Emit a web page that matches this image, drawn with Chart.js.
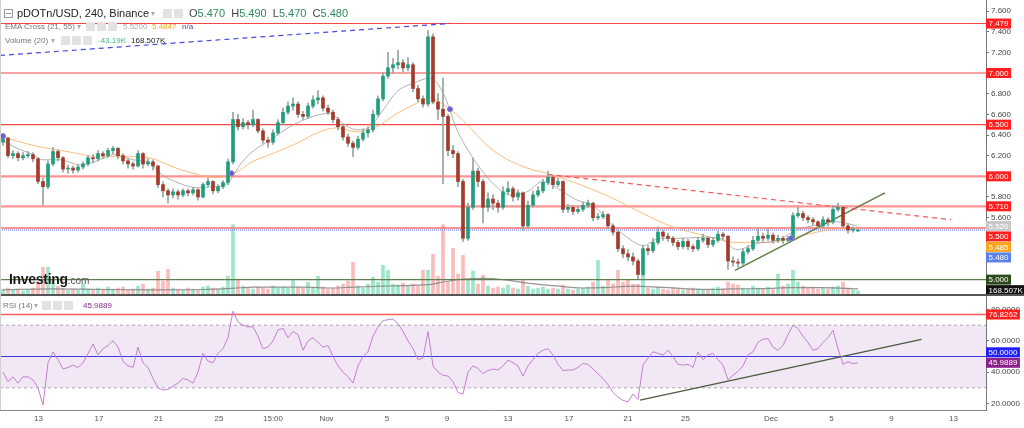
<!DOCTYPE html>
<html>
<head>
<meta charset="utf-8">
<script src="https://cdn.jsdelivr.net/npm/chart.js@4.4.1/dist/chart.umd.min.js"></script>
<style>
html,body{margin:0;padding:0;background:#fff;}
body{width:1024px;height:428px;position:relative;overflow:hidden;font-family:"Liberation Sans",Arial,sans-serif;}
#mainWrap{position:absolute;left:0;top:0;width:1024px;height:294px;}
#sep{position:absolute;left:0;top:294px;width:1024px;height:2px;background:#555;}
#rsiWrap{position:absolute;left:0;top:296px;width:1024px;height:132px;}
#leftEdge{position:absolute;left:0;top:0;width:1px;height:410px;background:#d0d0d0;}
.t{position:absolute;white-space:nowrap;line-height:1;z-index:5;}
.ic{position:absolute;width:9px;height:9px;background:#e2e2e2;border-radius:1px;z-index:5;}
.car{position:absolute;font-size:8px;color:#aaa;z-index:5;line-height:1;}
</style>
</head>
<body>
<div id="mainWrap"><canvas id="mainChart" width="1024" height="294"></canvas></div>
<div id="sep"></div>
<div id="rsiWrap"><canvas id="rsiChart" width="1024" height="132"></canvas></div>
<div id="leftEdge"></div>

<!-- header: symbol -->
<div class="t" style="left:4px;top:9px;width:7px;height:7px;border:1px solid #999;"></div>
<div class="t" style="left:6px;top:13px;width:5px;height:1px;background:#999;"></div>
<div class="t" style="left:17px;top:8px;font-size:11px;color:#222;">pDOTn/USD, 240, Binance</div>
<div class="car" style="left:151px;top:10px;">▾</div>
<div class="ic" style="left:163px;top:9px;"></div>
<div class="ic" style="left:174px;top:9px;"></div>
<div class="t" style="left:189px;top:8px;font-size:11px;color:#444;">O<span style="color:#2f8a5c">5.470</span>&nbsp; H<span style="color:#2f8a5c">5.490</span>&nbsp; L<span style="color:#2f8a5c">5.470</span>&nbsp; C<span style="color:#2f8a5c">5.480</span></div>

<!-- EMA legend -->
<div class="t" style="left:5px;top:23px;font-size:8px;color:#777;">EMA Cross (21, 55)</div>
<div class="car" style="left:77px;top:23px;">▾</div>
<div class="ic" style="left:86px;top:22px;"></div>
<div class="ic" style="left:97px;top:22px;"></div>
<div class="ic" style="left:108px;top:22px;"></div>
<div class="t" style="left:123px;top:23px;font-size:8px;color:#aaa;">5.5200</div>
<div class="t" style="left:152px;top:23px;font-size:8px;color:#f5a623;">5.4847</div>
<div class="t" style="left:182px;top:23px;font-size:8px;color:#3a4aa8;">n/a</div>

<!-- Volume legend -->
<div class="t" style="left:5px;top:37px;font-size:8px;color:#777;">Volume (20)</div>
<div class="car" style="left:51px;top:37px;">▾</div>
<div class="ic" style="left:61px;top:36px;"></div>
<div class="ic" style="left:72px;top:36px;"></div>
<div class="ic" style="left:83px;top:36px;"></div>
<div class="t" style="left:98px;top:37px;font-size:8px;color:#3dbb7f;">-43.19K</div>
<div class="t" style="left:131px;top:37px;font-size:8px;color:#222;">168.507K</div>

<!-- watermark -->
<div class="t" style="left:9px;top:272px;font-size:14px;font-weight:bold;color:#1a1a1a;letter-spacing:-0.3px;">Investing<span style="font-size:10px;font-weight:normal;color:#555;letter-spacing:0;">.com</span></div>

<!-- RSI legend -->
<div class="t" style="left:3px;top:302px;font-size:8px;color:#777;">RSI (14)</div>
<div class="car" style="left:34px;top:302px;">▾</div>
<div class="ic" style="left:42px;top:301px;"></div>
<div class="ic" style="left:53px;top:301px;"></div>
<div class="ic" style="left:64px;top:301px;"></div>
<div class="t" style="left:83px;top:302px;font-size:8px;color:#8b2a8b;">45.9889</div>

<script>
// ===== DATA =====
const opens = [6.33,6.37,6.20,6.22,6.18,6.20,6.21,6.17,5.95,5.90,
6.12,6.24,6.18,6.07,6.08,6.06,6.09,6.12,6.18,6.17,
6.22,6.20,6.25,6.27,6.20,6.15,6.12,6.10,6.22,6.12,
6.14,6.10,5.92,5.86,5.82,5.85,5.82,5.86,5.84,5.87,
5.80,5.92,5.95,5.86,5.90,5.94,6.14,6.55,6.48,6.52,
6.50,6.55,6.44,6.35,6.33,6.42,6.52,6.62,6.68,6.70,
6.60,6.58,6.68,6.74,6.76,6.66,6.62,6.55,6.48,6.38,
6.32,6.28,6.36,6.42,6.45,6.60,6.75,6.97,7.05,7.08,
7.10,7.05,7.08,6.85,6.75,6.70,7.35,6.72,6.65,6.58,
6.25,6.22,5.95,5.40,5.70,6.05,5.95,5.70,5.78,5.74,
5.70,5.85,5.88,5.80,5.84,5.52,5.72,5.82,5.86,5.94,
5.99,5.92,5.95,5.68,5.70,5.66,5.68,5.72,5.74,5.60,
5.61,5.63,5.52,5.46,5.30,5.25,5.22,5.18,5.05,5.30,
5.28,5.36,5.46,5.42,5.40,5.36,5.32,5.37,5.32,5.30,
5.38,5.40,5.34,5.38,5.44,5.42,5.18,5.17,5.16,5.27,
5.30,5.38,5.42,5.40,5.43,5.38,5.40,5.38,5.40,5.62,
5.64,5.60,5.58,5.56,5.52,5.58,5.56,5.68,5.70,5.52,
5.48,5.47];
const highs = [6.40,6.38,6.25,6.24,6.23,6.24,6.23,6.18,5.98,6.15,
6.28,6.26,6.19,6.11,6.10,6.11,6.14,6.20,6.21,6.25,
6.24,6.27,6.29,6.28,6.22,6.17,6.14,6.25,6.23,6.17,
6.16,6.11,5.95,5.88,5.88,5.87,5.88,5.88,5.89,5.88,
5.94,5.98,5.96,5.92,5.96,6.17,6.62,6.60,6.56,6.54,
6.64,6.56,6.46,6.38,6.45,6.55,6.66,6.72,6.76,6.72,
6.63,6.71,6.78,6.83,6.78,6.69,6.64,6.57,6.50,6.41,
6.34,6.39,6.46,6.48,6.64,6.78,7.00,7.20,7.14,7.22,
7.13,7.15,7.10,6.88,6.78,7.41,7.38,6.80,6.95,6.60,
6.30,6.24,5.97,5.74,6.18,6.08,5.97,5.84,5.82,5.77,
5.90,5.95,5.90,5.87,5.85,5.76,5.86,5.90,5.97,6.05,
6.01,5.98,5.96,5.73,5.72,5.71,5.75,5.77,5.75,5.64,
5.66,5.64,5.54,5.47,5.33,5.29,5.26,5.20,5.33,5.33,
5.40,5.51,5.48,5.45,5.42,5.38,5.40,5.39,5.34,5.41,
5.44,5.42,5.41,5.47,5.46,5.43,5.22,5.20,5.30,5.33,
5.42,5.50,5.45,5.49,5.45,5.43,5.42,5.42,5.65,5.70,
5.66,5.62,5.60,5.57,5.61,5.60,5.72,5.74,5.71,5.54,
5.51,5.49];
const lows = [6.30,6.18,6.17,6.15,6.16,6.18,6.14,5.93,5.72,5.88,
6.10,6.15,6.04,6.03,6.03,6.04,6.07,6.10,6.13,6.15,
6.17,6.18,6.22,6.17,6.12,6.08,6.07,6.09,6.08,6.10,
6.06,5.89,5.80,5.74,5.79,5.78,5.80,5.81,5.82,5.77,
5.79,5.90,5.83,5.84,5.88,5.92,6.12,6.45,6.46,6.46,
6.48,6.42,6.32,6.28,6.31,6.40,6.50,6.60,6.64,6.57,
6.55,6.56,6.66,6.70,6.63,6.60,6.52,6.45,6.35,6.29,
6.19,6.26,6.34,6.38,6.43,6.58,6.73,6.95,7.00,7.04,
7.01,7.02,6.82,6.72,6.67,6.68,6.70,6.55,5.93,6.20,
6.18,5.90,5.37,5.38,5.68,5.90,5.55,5.66,5.68,5.65,
5.68,5.83,5.76,5.77,5.48,5.50,5.70,5.80,5.84,5.92,
5.88,5.90,5.65,5.65,5.63,5.64,5.66,5.70,5.57,5.58,
5.59,5.49,5.43,5.27,5.21,5.18,5.14,5.01,5.03,5.24,
5.26,5.34,5.38,5.37,5.33,5.29,5.30,5.29,5.27,5.28,
5.36,5.31,5.32,5.36,5.39,5.10,5.13,5.12,5.14,5.25,
5.28,5.36,5.37,5.38,5.35,5.36,5.35,5.36,5.39,5.60,
5.57,5.55,5.53,5.49,5.50,5.52,5.54,5.66,5.50,5.45,
5.46,5.47];
const closes = [6.37,6.20,6.22,6.18,6.20,6.21,6.17,5.95,5.90,6.12,
6.24,6.18,6.07,6.08,6.06,6.09,6.12,6.18,6.17,6.22,
6.20,6.25,6.27,6.20,6.15,6.12,6.10,6.22,6.12,6.14,
6.10,5.92,5.86,5.82,5.85,5.82,5.86,5.84,5.87,5.80,
5.92,5.95,5.86,5.90,5.94,6.14,6.55,6.48,6.52,6.50,
6.55,6.44,6.35,6.33,6.42,6.52,6.62,6.68,6.70,6.60,
6.58,6.68,6.74,6.76,6.66,6.62,6.55,6.48,6.38,6.32,
6.28,6.36,6.42,6.45,6.60,6.75,6.97,7.05,7.08,7.10,
7.05,7.08,6.85,6.75,6.70,7.35,6.72,6.65,6.58,6.25,
6.22,5.95,5.40,5.70,6.05,5.95,5.70,5.78,5.74,5.70,
5.85,5.88,5.80,5.84,5.52,5.72,5.82,5.86,5.94,5.99,
5.92,5.95,5.68,5.70,5.66,5.68,5.72,5.74,5.60,5.61,
5.63,5.52,5.46,5.30,5.25,5.22,5.18,5.05,5.30,5.28,
5.36,5.46,5.42,5.40,5.36,5.32,5.37,5.32,5.30,5.38,
5.40,5.34,5.38,5.44,5.42,5.18,5.17,5.16,5.27,5.30,
5.38,5.42,5.40,5.43,5.38,5.40,5.38,5.40,5.62,5.64,
5.60,5.58,5.56,5.52,5.58,5.56,5.68,5.70,5.52,5.48,
5.49,5.48];
const volumesK = [165,198,132,165,99,132,198,396,891,891,
495,264,198,132,165,132,330,165,132,198,
165,231,165,198,231,132,165,264,330,165,
198,759,429,825,198,165,132,198,165,132,
231,264,198,165,231,594,2310,495,264,198,
165,231,198,165,264,198,231,198,495,231,
198,396,198,594,231,165,198,264,330,429,
1056,264,198,330,561,396,957,792,330,297,
363,264,330,264,792,792,1320,594,2310,396,
1518,660,1287,495,759,330,627,264,198,231,
198,297,198,165,495,264,165,198,231,165,
198,165,297,165,132,165,198,231,396,1122,
264,495,330,792,396,495,330,330,627,198,
165,231,165,132,198,165,132,165,198,165,
132,165,198,231,165,396,330,297,198,165,
264,198,165,231,165,660,264,330,792,396,
264,198,231,165,198,165,231,264,396,198,
132,99];
const rsiValues = [40,34,37,33,37,37,35,30,19,46,
53,48,42,43,44.5,43,46,52,58,51,
55,57,60,56,47,44,43,56,46,43,
36,30,28.6,29,31,33,36,35,33,40,
52,47,46,52,55,62,79,72,70,69,
69,63,55,56,60,67,68,62,66,64,
54,60,62,59,56,57,50,44,40,37,
33,44,50,53,63,69,73,73.5,74,71,
66,60,55,48,49,66,44,40,38,37.5,
34,27,26,40,44,42.4,39,41,42,41.4,
44,47.8,46,44,37.5,44,48,52,54,55,
51,45,41,41.4,41.4,43,45.6,45,42,39,
36,32,27,24,22,21,26,22.5,44.5,49,
53,52,51,54,50,45,44.5,45,43,53,
48,51,52,48,44.5,35,38,40.5,44,51,
53,59,61,61.5,56,54,57,64,70,68,
63,59,54,55,59,62,66.8,55,45,46.7,
45.5,45.99];
const ema21Idx  = [0,2,6,8,11.4,15.4,19.4,22,26,29.4,31.4,35.4,38.8,42,44.8,47.4,49.4,53.4,57.4,61.4,65.4,68,70.8,73.4,76,78.8,82,85.4,88,90.8,93.4,95.4,98,101.4,104.8,108,111.4,114.8,118,121.4,124.8,128,131.4,134.8,140,143.4,146.8,150.8,154.8,158.8,162.8,166.8,170.8];
const ema21Vals = [6.35,6.29,6.21,6.16,6.16,6.11,6.16,6.21,6.16,6.13,6.03,5.93,5.89,5.90,5.93,6.11,6.22,6.35,6.48,6.57,6.61,6.51,6.45,6.48,6.64,6.82,6.90,6.95,6.81,6.45,6.22,6.08,5.93,5.82,5.85,5.95,5.87,5.77,5.72,5.55,5.41,5.33,5.40,5.40,5.41,5.40,5.29,5.35,5.38,5.48,5.53,5.56,5.52];
const ema55Idx  = [0,6,12.8,19.4,26,30,34,38,42,45.4,47.4,49.4,53.4,58.8,62.8,66.8,70.8,74.8,78.8,82,85.4,88.8,91.4,92.6,98,104.8,108.8,114.8,121.4,128,133.4,140,146.8,153.4,157.4,162.8,166.8,170.8];
const ema55Vals = [6.38,6.30,6.24,6.19,6.19,6.17,6.09,6.03,5.99,6.01,6.06,6.13,6.21,6.32,6.42,6.47,6.43,6.48,6.61,6.69,6.76,6.67,6.57,6.51,6.25,6.08,6.03,5.93,5.80,5.64,5.52,5.43,5.36,5.36,5.40,5.46,5.49,5.49];
const volMaIdx  = [0,10,20,30,40,46,50,60,66,70,76,80,86,88,92,96,100,104,110,116,120,126,130,136,142,146,152,158,164,171];
const volMaVals = [140,170,150,140,150,190,230,230,200,230,260,280,330,400,500,520,480,380,280,200,210,260,240,180,150,170,180,210,210,168.507];
const crossIdx  = [0,45.7,89.4,157.6];
const crossVals = [6.39,6.03,6.65,5.40];
const redLevelsThin  = [7.479,7.000,6.500];
const redLevelsThick = [6.000,5.710,5.500];
const lastPrice = 5.480;
const supportLevel = 5.000;
const ema21Last = 5.520, ema55Last = 5.485, volMaLast = 168.507;
const blueTrendIdx = [-0.6,89.4],   blueTrendVals = [7.17,7.48];
const redTrendIdx  = [108.9,189.6], redTrendVals  = [6.02,5.58];
const greenTrendIdx= [146.4,176.4], greenTrendVals= [5.09,5.84];
const rsiTrendIdx  = [127.4,183.7], rsiTrendVals  = [22.2,61.0];
const rsiUpper = 70, rsiLower = 30, rsiMid = 50, rsiMark = 76.8262, rsiLast = 45.9889;
const priceTicks = [5.0,5.2,5.4,5.6,5.8,6.0,6.2,6.4,6.6,6.8,7.0,7.2,7.4,7.6];
const rsiTicks = [20,40,60,80];
const xTickPos    = [7.1,19.2,31.1,43.2,54,64.7,76.8,88.8,101,113.2,125,136.5,153.6,165.7,177.7,190.1];
const xTickLabels = ['13','17','21','25','15:00','Nov','5','9','13','17','21','25','Dec','5','9','13'];

// ===== CHART =====
const X_MIN = -0.6, X_MAX = 196.6;
const FONT = '"Liberation Sans", Arial, sans-serif';
const idx = closes.map((_, i) => i);
const UP = '#1f9e7d', DOWN = '#a33a2c', WICK = '#93a69c';
const isUp = i => closes[i] >= opens[i];
const pts = (xs, ys) => xs.map((x, i) => ({x: x, y: ys[i]}));
const hline = (v) => [{x: X_MIN, y: v}, {x: X_MAX, y: v}];

function axisLabelPlugin(getItems, dir) {
  return {
    id: 'axisLabels',
    afterDraw(chart) {
      const ctx = chart.ctx;
      const left = chart.chartArea.right;
      const items = getItems().map(it => Object.assign({}, it, {py: chart.scales[it.axis].getPixelForValue(it.value)}));
      const h = 10, gap = 10.5;
      if (dir === 'down') {
        items.sort((a, b) => a.py - b.py);
        for (let i = 1; i < items.length; i++) if (items[i].py < items[i-1].py + gap) items[i].py = items[i-1].py + gap;
      } else {
        items.sort((a, b) => b.py - a.py);
        for (let i = 1; i < items.length; i++) if (items[i].py > items[i-1].py - gap) items[i].py = items[i-1].py - gap;
      }
      ctx.save();
      ctx.font = '8px ' + FONT;
      ctx.textBaseline = 'middle';
      items.forEach(it => {
        const w = ctx.measureText(it.text).width + 5;
        ctx.fillStyle = it.bg;
        ctx.fillRect(left, it.py - h/2, w, h);
        ctx.fillStyle = it.fg || '#fff';
        ctx.fillText(it.text, left + 2.5, it.py + 0.5);
      });
      ctx.restore();
    }
  };
}

const lineDs = (data, color, width, dash, order, axis) => ({
  type: 'line', data: data, borderColor: color, borderWidth: width, borderDash: dash || [],
  pointRadius: 0, fill: false, order: order, yAxisID: axis || 'y', tension: 0
});

const mainDatasets = [
  {type: 'bar', data: idx.map(i => ({x: i, y: volumesK[i]})), yAxisID: 'yv', barThickness: 3, grouped: false,
   backgroundColor: idx.map(i => isUp(i) ? 'rgba(60,205,150,0.5)' : 'rgba(245,120,120,0.5)'), order: 20},
  Object.assign(lineDs(pts(volMaIdx, volMaVals), 'rgba(130,130,130,0.85)', 1.2, null, 19, 'yv'), {cubicInterpolationMode: 'monotone'}),
  ...redLevelsThin.map(v => lineDs(hline(v), '#f44646', 1.2, null, 15)),
  ...redLevelsThick.map(v => lineDs(hline(v), 'rgba(255,110,110,0.75)', 2.2, null, 15)),
  lineDs(hline(lastPrice), 'rgba(130,150,240,0.7)', 2, [1,1], 15),
  lineDs(hline(supportLevel), '#5f7f4c', 1.2, null, 15),
  Object.assign(lineDs(pts(ema21Idx, ema21Vals), 'rgba(165,165,165,0.85)', 1, null, 12), {cubicInterpolationMode: 'monotone'}),
  Object.assign(lineDs(pts(ema55Idx, ema55Vals), 'rgba(252,178,100,0.85)', 1, null, 12), {cubicInterpolationMode: 'monotone'}),
  lineDs(pts(blueTrendIdx, blueTrendVals), '#4646e6', 1.2, [5,4], 11),
  lineDs(pts(redTrendIdx, redTrendVals), '#f45a5a', 1.2, [5,4], 11),
  lineDs(pts(greenTrendIdx, greenTrendVals), '#5e7d45', 1.4, null, 11),
  {type: 'bar', data: idx.map(i => ({x: i, y: [lows[i], highs[i]]})), barThickness: 1, grouped: false,
   backgroundColor: WICK, order: 6},
  {type: 'bar', data: idx.map(i => ({x: i, y: [opens[i], closes[i]]})), barThickness: 3, grouped: false, minBarLength: 1,
   backgroundColor: idx.map(i => isUp(i) ? UP : DOWN), order: 5},
  {type: 'scatter', data: pts(crossIdx, crossVals), pointRadius: 2.5, pointBackgroundColor: '#6a5acd',
   pointBorderColor: '#8a7ae0', pointBorderWidth: 1, showLine: false, order: 3}
];

new Chart(document.getElementById('mainChart'), {
  type: 'bar',
  data: {datasets: mainDatasets},
  options: {
    responsive: false, animation: false, devicePixelRatio: 1,
    layout: {padding: 0, autoPadding: false},
    plugins: {legend: {display: false}, tooltip: {enabled: false}, title: {display: false}},
    scales: {
      x: {type: 'linear', min: X_MIN, max: X_MAX, offset: false, display: false},
      y: {
        position: 'right', min: 4.861, max: 7.7067,
        afterBuildTicks: s => { s.ticks = priceTicks.map(v => ({value: v})); },
        afterFit: s => { s.width = 38; s.paddingTop = 0; s.paddingBottom = 0; },
        ticks: {callback: v => Number(v).toFixed(3), font: {size: 8, family: FONT}, color: '#444', padding: 2},
        grid: {drawOnChartArea: false, tickLength: 3, color: '#777'},
        border: {color: '#777'}
      },
      yv: {display: false, min: 0, max: 9800}
    }
  },
  plugins: [axisLabelPlugin(() => [
    {axis: 'y', value: 7.479, text: '7.479', bg: '#ff1f1f'},
    {axis: 'y', value: 7.000, text: '7.000', bg: '#ff1f1f'},
    {axis: 'y', value: 6.500, text: '6.500', bg: '#ff1f1f'},
    {axis: 'y', value: 6.000, text: '6.000', bg: '#ff1f1f'},
    {axis: 'y', value: 5.710, text: '5.710', bg: '#ff1f1f'},
    {axis: 'y', value: ema21Last, text: '5.520', bg: '#c8c8c8'},
    {axis: 'y', value: 5.500, text: '5.500', bg: '#ff1f1f'},
    {axis: 'y', value: ema55Last, text: '5.485', bg: '#ffa31a'},
    {axis: 'y', value: lastPrice, text: '5.480', bg: '#5b80e8'},
    {axis: 'y', value: supportLevel, text: '5.000', bg: '#2d4a1c'},
    {axis: 'yv', value: volMaLast, text: '168.507K', bg: '#111'}
  ], 'down')]
});

// ===== RSI =====
const rsiDatasets = [
  {type: 'line', data: hline(rsiUpper), borderColor: '#a8a8a8', borderWidth: 1, borderDash: [3,3], pointRadius: 0,
   fill: {target: {value: rsiLower}}, backgroundColor: 'rgba(200,160,215,0.25)', order: 10},
  lineDs(hline(rsiLower), '#a8a8a8', 1, [3,3], 10),
  lineDs(hline(rsiMid), '#3a3ae0', 1.2, null, 9),
  lineDs(hline(rsiMark), '#ff5a5a', 1.5, null, 9),
  lineDs(idx.map(i => ({x: i, y: rsiValues[i]})), '#c47fd0', 1, null, 5),
  lineDs(pts(rsiTrendIdx, rsiTrendVals), '#4d5b3d', 1.3, null, 4)
];

new Chart(document.getElementById('rsiChart'), {
  type: 'line',
  data: {datasets: rsiDatasets},
  options: {
    responsive: false, animation: false, devicePixelRatio: 1,
    layout: {padding: 0, autoPadding: false},
    plugins: {legend: {display: false}, tooltip: {enabled: false}, title: {display: false}},
    scales: {
      x: {
        type: 'linear', min: X_MIN, max: X_MAX, offset: false,
        afterBuildTicks: s => { s.ticks = xTickPos.map(v => ({value: v})); },
        afterFit: s => { s.height = 18; s.paddingLeft = 0; s.paddingRight = 0; },
        ticks: {autoSkip: false, maxRotation: 0, callback: (v, i) => xTickLabels[i], font: {size: 8, family: FONT}, color: '#555', padding: 4},
        grid: {display: false, drawTicks: false},
        border: {display: true, color: '#888'}
      },
      y: {
        position: 'right', min: 15.82, max: 88.66,
        afterBuildTicks: s => { s.ticks = rsiTicks.map(v => ({value: v})); },
        afterFit: s => { s.width = 38; s.paddingTop = 0; s.paddingBottom = 0; },
        ticks: {callback: v => Number(v).toFixed(4), font: {size: 8, family: FONT}, color: '#444', padding: 2},
        grid: {drawOnChartArea: false, tickLength: 3, color: '#777'},
        border: {color: '#777'}
      }
    }
  },
  plugins: [axisLabelPlugin(() => [
    {axis: 'y', value: rsiMark, text: '76.8262', bg: '#ff1f1f'},
    {axis: 'y', value: rsiMid, text: '50.0000', bg: '#1f1fff'},
    {axis: 'y', value: rsiLast, text: '45.9889', bg: '#8b1f8b'}
  ], 'up')]
});
</script>
</body>
</html>
